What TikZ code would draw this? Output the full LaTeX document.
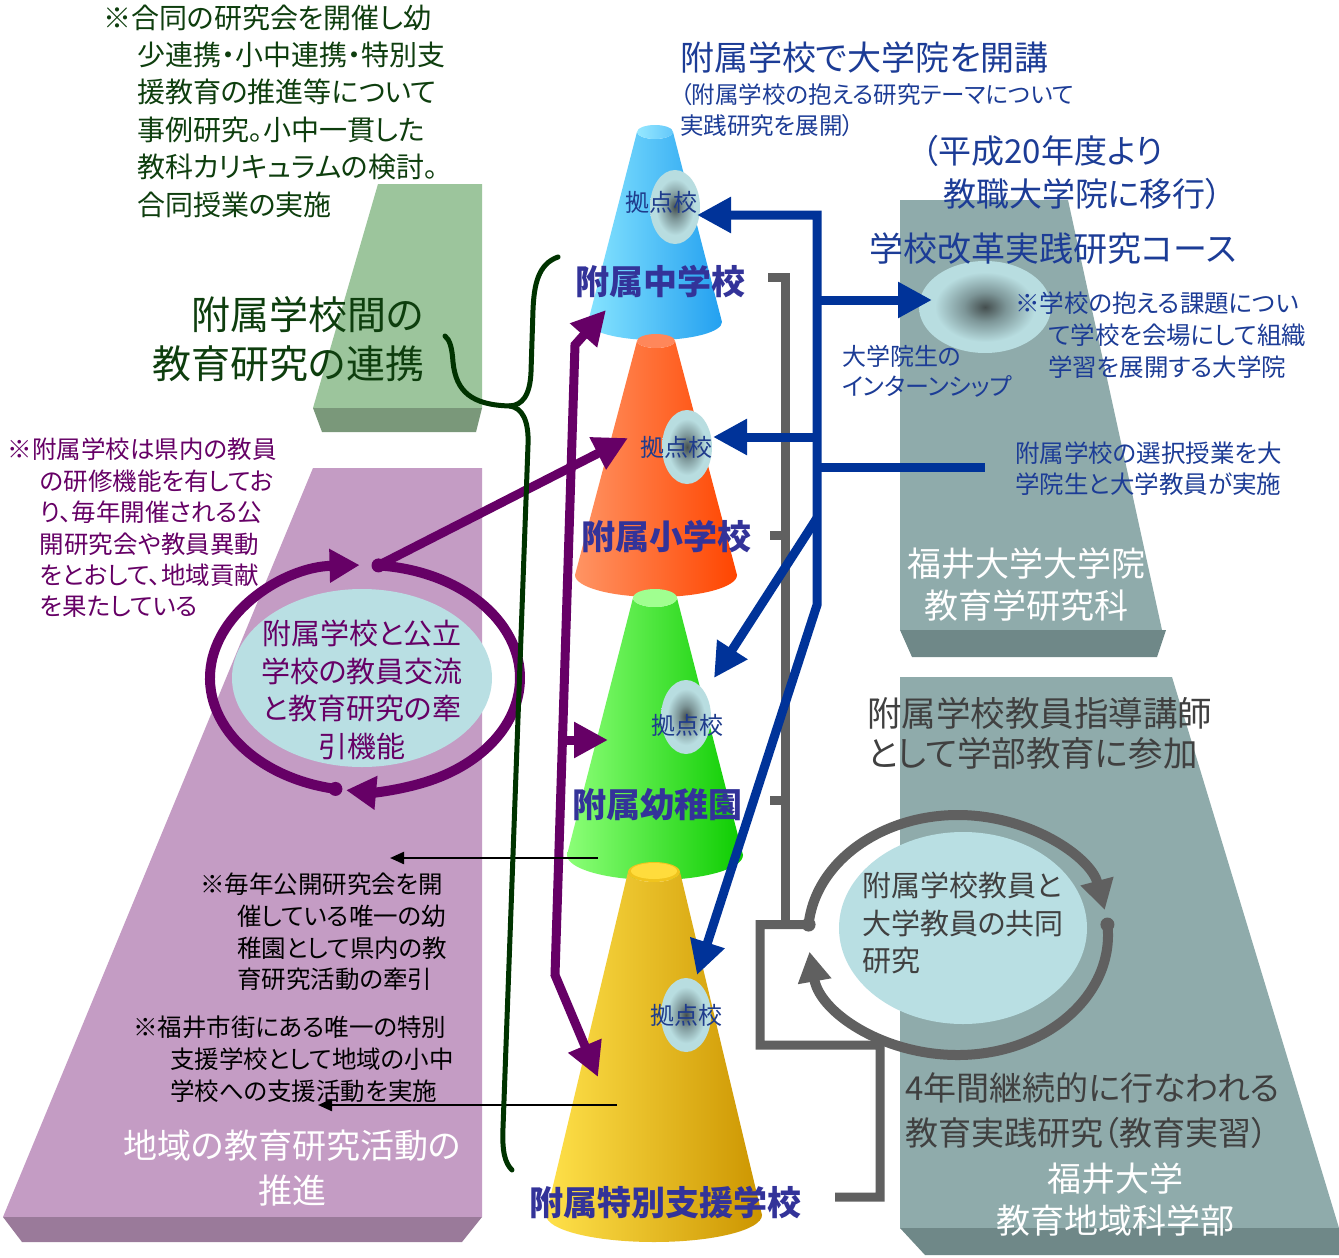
\documentclass[tikz,border=0pt]{standalone}
\usepackage{fontspec}
\setmainfont{Noto Sans CJK JP}[RawFeature=+palt]
\usetikzlibrary{arrows.meta,calc,shapes.geometric}

\definecolor{slabgreen}{HTML}{9CC59C}
\definecolor{slabgreenlo}{HTML}{7A987A}
\definecolor{slabpurple}{HTML}{C49CC4}
\definecolor{slabpurplelo}{HTML}{9A7A9A}
\definecolor{slabgray}{HTML}{8FABAB}
\definecolor{slabgraylo}{HTML}{6F8888}
\definecolor{lineblue}{HTML}{003399}
\definecolor{textblue}{HTML}{1C3C96}
\definecolor{deeppurple}{HTML}{660066}
\definecolor{forest}{HTML}{003300}
\definecolor{foresttext}{HTML}{0E3E0E}
\definecolor{linegray}{HTML}{606060}
\definecolor{textgray}{HTML}{404040}
\definecolor{conelabel}{HTML}{333399}
\definecolor{paleblue}{HTML}{B9DFE3}
\definecolor{hubcore}{HTML}{444E4E}
\definecolor{hubmid}{HTML}{7D9698}
\definecolor{hubrim}{HTML}{B8DDE0}
\definecolor{hubtext}{HTML}{1F3C8C}
% cone colours
\definecolor{blueL}{HTML}{86E4FF}
\definecolor{blueR}{HTML}{23A0F0}
\definecolor{blueCapL}{HTML}{96E8FF}
\definecolor{blueCapR}{HTML}{64C8FA}
\definecolor{orangeL}{HTML}{FF9464}
\definecolor{orangeR}{HTML}{FF4500}
\definecolor{orangeCap}{HTML}{FF875A}
\definecolor{greenL}{HTML}{8CFF78}
\definecolor{greenR}{HTML}{0CCC00}
\definecolor{greenCap}{HTML}{A0FF90}
\definecolor{yellowL}{HTML}{FFE14A}
\definecolor{yellowM}{HTML}{FFCC10}
\definecolor{yellowR}{HTML}{CC9500}
\definecolor{yellowRim}{HTML}{F0C41E}
\definecolor{yellowCap}{HTML}{FFDC3C}

\pgfdeclareradialshading{hubglow}{\pgfpointorigin}{color(0bp)=(hubcore); color(8bp)=(hubmid); color(19bp)=(hubrim); color(50bp)=(hubrim)}

\newcommand{\setfs}[2]{\fontsize{#1pt}{#2pt}\selectfont}
% truncated cone side: cx, top y, top rx, top ry, bottom y, bottom rx, bottom ry, shading
\newcommand{\conebody}[8]{%
  \shade[#8] ({#1-#3},#2) -- ({#1-#6},#5)
    arc[start angle=180,end angle=0,x radius=#6,y radius=#7]
    -- ({#1+#3},#2)
    arc[start angle=0,end angle=180,x radius=#3,y radius=#4] -- cycle;}

\tikzset{
  txt/.style={inner sep=0pt,outer sep=0pt},
  bline/.style={draw=lineblue,line width=9pt},
  pline/.style={draw=deeppurple,line width=9pt},
  gline/.style={draw=linegray,line width=9pt},
  bigtip/.tip={Triangle[length=34pt,width=34pt]},
  looptip/.tip={Triangle[length=30pt,width=32pt]},
  smalltip/.tip={Triangle[length=14pt,width=12pt]},
  hub/.style={ellipse,inner sep=0pt,minimum width=50pt,minimum height=74pt,shading=hubglow},
  hublabel/.style={txt,text=hubtext,font=\setfs{24}{26}},
  conename/.style={txt,text=conelabel,font=\setfs{34}{38}\bfseries},
}

\begin{document}
\begin{tikzpicture}[x=1pt,y=-1pt]
\useasboundingbox (0,0) rectangle (1339,1258);
\fill[white] (0,0) rectangle (1339,1258);

% ---- slabs ----
\fill[slabgreen] (378,184) -- (482,184) -- (482,408) -- (313,408) -- cycle;
\fill[slabgreenlo] (313,408) -- (482,408) -- (476,432) -- (322,432) -- cycle;
\fill[slabpurple] (313,468) -- (482,468) -- (482,1217) -- (3,1217) -- cycle;
\fill[slabpurplelo] (3,1217) -- (482,1217) -- (462,1242) -- (22,1242) -- cycle;
\fill[slabgray] (900,200) -- (1068,200) -- (1162,630) -- (900,630) -- cycle;
\fill[slabgraylo] (900,630) -- (1166,630) -- (1157,657) -- (912,657) -- cycle;
\fill[slabgray] (900,677) -- (1172,677) -- (1339,1228) -- (900,1228) -- cycle;
\fill[slabgraylo] (900,1228) -- (1339,1228) -- (1339,1255) -- (925,1255) -- cycle;

% ---- cones ----
\conebody{655}{132}{18}{7}{322}{67}{18}{left color=blueL,right color=blueR}
\shade[left color=blueCapL,right color=blueCapR] (655,132) ellipse [x radius=18,y radius=7];
\conebody{656}{341}{19}{7}{575}{81}{22}{left color=orangeL,right color=orangeR}
\fill[orangeCap] (656,341) ellipse [x radius=19,y radius=7];
\conebody{655}{598}{22}{9}{855}{88}{25}{left color=greenL,right color=greenR}
\fill[greenCap] (655,598) ellipse [x radius=22,y radius=9];
\conebody{654}{872}{26}{10}{1215}{108}{27}{left color=yellowL,middle color=yellowM,right color=yellowR}
\fill[yellowRim] (654,872) ellipse [x radius=26,y radius=10];
\fill[yellowCap] (654,871) ellipse [x radius=23,y radius=8];

% ---- hubs and pale ellipses ----
\node[hub] (hubA) at (675,207) {};
\node[hub] (hubB) at (687,447) {};
\node[hub] (hubC) at (686,717) {};
\node[hub] (hubD) at (686,1015) {};
\node[hub,minimum width=132pt,minimum height=92pt] (hubE) at (985,307) {};
\fill[paleblue] (362,678) ellipse [x radius=130,y radius=89];
\fill[paleblue] (963,928) ellipse [x radius=124,y radius=96];

% ---- gray links ----
\coordinate (gc) at (958,935);
\coordinate (gdotL) at ($(gc)+(185:150 and 120)$);
\coordinate (gdotR) at ($(gc)+(355:150 and 120)$);
\draw[gline] (768,277) -- (785,277) -- (785,925);
\draw[gline] (770,535) -- (785,535);
\draw[gline] (770,800) -- (785,800);
\draw[gline] (gdotL) -- (760,924.5) -- (760,1045) -- (880,1045) -- (880,1197) -- (835,1197);
\draw[gline,line width=10pt,-looptip] (gdotL) arc[start angle=185,end angle=348,x radius=150,y radius=120];
\draw[gline,line width=10pt,-looptip] (gdotR) arc[start angle=-5,end angle=172,x radius=150,y radius=120];
\fill[linegray] (gdotL) circle (7);
\fill[linegray] (gdotR) circle (7);

% ---- blue links ----
\coordinate (bTop) at (817,215);
\coordinate (bBot) at (817,605);
\draw[bline,line join=miter,bigtip-bigtip] (697,215) -- (bTop) -- (bBot) -- (697,975);
\draw[bline,-bigtip] (817,300) -- (932,300);
\draw[bline,-bigtip] (817,437) -- (713,437);
\draw[bline] (817,467) -- (985,467);
\draw[bline,-bigtip] (817,518) -- (714,678);

% ---- purple links ----
\coordinate (pc) at (365,678);
\coordinate (pdotT) at ($(pc)+(275:155 and 113)$);
\coordinate (pdotB) at ($(pc)+(101:155 and 113)$);
\draw[pline,line join=miter,bigtip-bigtip] (598,1077) -- (555,975) -- (575,345) -- (606,310);
\draw[pline,-bigtip] (563,740) -- (608,740);
\draw[pline,-bigtip] (pdotT) -- (628,438);
\draw[pline,line width=10pt,-looptip] (pdotB) arc[start angle=101,end angle=268,x radius=155,y radius=113];
\draw[pline,line width=10pt,-looptip] (pdotT) arc[start angle=275,end angle=457,x radius=155,y radius=113];
\fill[deeppurple] (pdotT) circle (7);
\fill[deeppurple] (pdotB) circle (7);

% ---- thin black pointers ----
\draw[line width=2.2pt,-smalltip] (598,858) -- (390,858);
\draw[line width=2.2pt,-smalltip] (617,1105) -- (318,1105);

% ---- dark green brace ----
\draw[forest,line width=5pt,line cap=round]
  (558,257) .. controls (538,264) and (534,285) .. (533,310)
  -- (531,372) .. controls (530,396) and (522,405) .. (510,406);
\draw[forest,line width=5pt,line cap=round]
  (510,406) .. controls (522,408) and (529,420) .. (528,445)
  -- (503,1128) .. controls (502,1152) and (505,1163) .. (512,1170);
\draw[forest,line width=5pt,line cap=round]
  (510,406) .. controls (472,405) and (456,392) .. (453,362)
  .. controls (452,348) and (450,340) .. (445,336);

% ---- cone names ----
\node[conename] (jhs) at (660,282) {附属中学校};
\node[conename] (els) at (666,537) {附属小学校};
\node[conename] (kdg) at (657,805) {附属幼稚園};
\node[conename] (sns) at (665,1203) {附属特別支援学校};
\node[hublabel] (hubtA) at (661,202) {拠点校};
\node[hublabel] (hubtB) at (676,447) {拠点校};
\node[hublabel] (hubtC) at (687,725) {拠点校};
\node[hublabel] (hubtD) at (686,1015) {拠点校};

% ---- green texts ----
\node[txt,anchor=west,align=left,text=foresttext,font=\setfs{28}{37.4}] (gnote) at (103,111)
 {※合同の研究会を開催し幼\\
  \hspace*{34pt}少連携・小中連携・特別支\\
  \hspace*{34pt}援教育の推進等について\\
  \hspace*{34pt}事例研究。小中一貫した\\
  \hspace*{34pt}教科カリキュラムの検討。\\
  \hspace*{34pt}合同授業の実施};
\node[txt,anchor=east,align=right,text=foresttext,font=\setfs{39}{49}] (gtitle) at (424,339)
 {附属学校間の\\教育研究の連携};

% ---- purple side texts ----
\node[txt,anchor=west,align=left,text=deeppurple,font=\setfs{24.5}{31.4}] (pnote) at (8,528)
 {※附属学校は県内の教員\\
  \hspace*{32pt}の研修機能を有してお\\
  \hspace*{32pt}り、毎年開催される公\\
  \hspace*{32pt}開研究会や教員異動\\
  \hspace*{32pt}をとおして、地域貢献\\
  \hspace*{32pt}を果たしている};
\node[txt,align=center,text=deeppurple,font=\setfs{29}{37.5}] (ploopt) at (362,690)
 {附属学校と公立\\学校の教員交流\\と教育研究の牽\\引機能};
\node[txt,anchor=west,align=left,font=\setfs{24.5}{31.7}] (knote) at (200,932)
 {※毎年公開研究会を開\\
  \hspace*{37pt}催している唯一の幼\\
  \hspace*{37pt}稚園として県内の教\\
  \hspace*{37pt}育研究活動の牽引};
\node[txt,anchor=west,align=left,font=\setfs{24.5}{32}] (snote) at (133,1059)
 {※福井市街にある唯一の特別\\
  \hspace*{37pt}支援学校として地域の小中\\
  \hspace*{37pt}学校への支援活動を実施};
\node[txt,align=center,text=white,font=\setfs{34}{45}] (rtitle) at (292,1168)
 {地域の教育研究活動の\\推進};

% ---- blue texts ----
\node[txt,anchor=west,text=textblue,font=\setfs{34}{38}] (gradtop) at (680,58) {附属学校で大学院を開講};
\node[txt,anchor=west,align=left,text=textblue,font=\setfs{23.5}{31}] (gradsub) at (680,110)
 {（附属学校の抱える研究テーマについて\\実践研究を展開）};
\node[txt,anchor=west,align=left,text=textblue,font=\setfs{33}{43}] (shift) at (922,172)
 {（平成20年度より\\\hspace*{21pt}教職大学院に移行）};
\node[txt,text=textblue,font=\setfs{34}{38}] (course) at (1053,249) {学校改革実践研究コース};
\node[txt,anchor=west,align=left,text=textblue,font=\setfs{24.5}{32}] (cnote) at (1015,335)
 {※学校の抱える課題につい\\
  \hspace*{33pt}て学校を会場にして組織\\
  \hspace*{33pt}学習を展開する大学院};
\node[txt,anchor=west,align=left,text=textblue,font=\setfs{24}{30}] (intern) at (842,371)
 {大学院生の\\インターンシップ};
\node[txt,anchor=west,align=left,text=textblue,font=\setfs{24.5}{31}] (elect) at (1015,469)
 {附属学校の選択授業を大\\学院生と大学教員が実施};
\node[txt,align=center,text=white,font=\setfs{34}{42}] (gschool) at (1026,585)
 {福井大学大学院\\教育学研究科};

% ---- gray texts ----
\node[txt,anchor=west,align=left,text=textgray,font=\setfs{34.5}{40}] (lect) at (867,733)
 {附属学校教員指導講師\\として学部教育に参加};
\node[txt,anchor=west,align=left,text=textgray,font=\setfs{29}{37.5}] (joint) at (862,923)
 {附属学校教員と\\大学教員の共同\\研究};
\node[txt,anchor=west,align=left,text=textgray,font=\setfs{33}{45}] (prac) at (905,1111)
 {4年間継続的に行なわれる\\教育実践研究（教育実習）};
\node[txt,align=center,text=white,font=\setfs{34}{42}] (fac) at (1115,1200)
 {福井大学\\教育地域科学部};
\end{tikzpicture}
\end{document}
